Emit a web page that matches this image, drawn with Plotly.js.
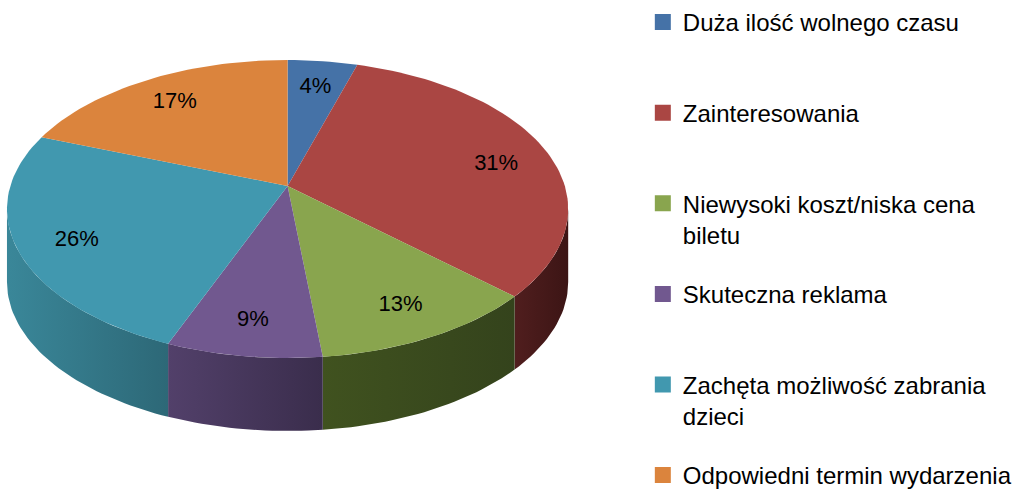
<!DOCTYPE html>
<html>
<head>
<meta charset="utf-8">
<script src="https://cdn.plot.ly/plotly-3.0.1.min.js"></script>
<style>html,body{margin:0;padding:0;background:#fff;}#chart{width:1017px;height:493px;}</style>
</head>
<body>
<div id="chart"></div>
<script>
// ---- data ----
const categories = [
  "Duża ilość wolnego czasu",
  "Zainteresowania",
  "Niewysoki koszt/niska cena biletu",
  "Skuteczna reklama",
  "Zachęta możliwość zabrania dzieci",
  "Odpowiedni termin wydarzenia"
];
const legendLabels = [
  "Duża ilość wolnego czasu<br>&nbsp;",
  "Zainteresowania<br>&nbsp;",
  "Niewysoki koszt/niska cena<br>biletu",
  "Skuteczna reklama<br>&nbsp;",
  "Zachęta możliwość zabrania<br>dzieci",
  "Odpowiedni termin wydarzenia"
];
const values = [4, 31, 13, 9, 26, 17];
const topColors = ["#4572a7", "#aa4643", "#89a54e", "#71588f", "#4198af", "#db843d"];
const sideColorsLight = ["#2c4a70", "#501e1e", "#40521f", "#52406a", "#3a8799", "#a0602c"];
const sideColorsDark = ["#22395a", "#3c1515", "#34431c", "#3a2d4c", "#2d6877", "#7c4a22"];

// ---- geometry (style/layout constants) ----
const CX = 289, CY = 209, RX = 282, RY = 149, DEPTH = 73;
const AX = 289, AY = 186;          // apex of slices (perspective)
const LABEL_R = 0.79;

function pt(t, dy) {
  return [CX + RX * Math.sin(t), CY - RY * Math.cos(t) + (dy || 0)];
}

const total = values.reduce((a, b) => a + b, 0);
const traces = [];
const tops = [];
const labelX = [], labelY = [];
let acc = 0;
values.forEach((v, i) => {
  const t1 = acc / total * 2 * Math.PI;
  acc += v;
  const t2 = acc / total * 2 * Math.PI;
  // top face
  const n = Math.max(4, Math.ceil((t2 - t1) / (2 * Math.PI) * 240));
  const xs = [AX], ys = [AY];
  for (let k = 0; k <= n; k++) {
    const p = pt(t1 + (t2 - t1) * k / n);
    xs.push(p[0]); ys.push(p[1]);
  }
  xs.push(AX); ys.push(AY);
  tops.push({
    type: "scatter", mode: "lines", x: xs, y: ys, fill: "toself",
    fillcolor: topColors[i], line: {width: 0, color: topColors[i]},
    hoverinfo: "skip", showlegend: false
  });
  // side face (front visible half: t in [pi/2, 3pi/2])
  const s1 = Math.max(t1, Math.PI / 2), s2 = Math.min(t2, 3 * Math.PI / 2);
  if (s2 > s1) {
    const m = Math.max(4, Math.ceil((s2 - s1) / (2 * Math.PI) * 240));
    const sx = [], sy = [];
    for (let k = 0; k <= m; k++) {
      const p = pt(s1 + (s2 - s1) * k / m);
      sx.push(p[0]); sy.push(p[1]);
    }
    for (let k = m; k >= 0; k--) {
      const p = pt(s1 + (s2 - s1) * k / m, DEPTH);
      sx.push(p[0]); sy.push(p[1]);
    }
    sx.push(sx[0]); sy.push(sy[0]);
    traces.push({
      type: "scatter", mode: "lines", x: sx, y: sy, fill: "toself",
      fillgradient: {type: "horizontal", colorscale: [[0, sideColorsLight[i]], [1, sideColorsDark[i]]]},
      fillcolor: sideColorsDark[i],
      line: {width: 0, color: sideColorsDark[i]},
      hoverinfo: "skip", showlegend: false
    });
  }
  const tm = (t1 + t2) / 2;
  const pm = pt(tm);
  labelX.push(AX + (pm[0] - AX) * LABEL_R);
  labelY.push(AY + (pm[1] - AY) * LABEL_R);
});

const labelTrace = {
  type: "scatter", mode: "text", x: labelX, y: labelY,
  text: values.map(v => v + "%"),
  textfont: {family: "Liberation Sans, Arial, sans-serif", size: 22, color: "#000"},
  hoverinfo: "skip", showlegend: false
};

const legendTraces = categories.map((c, i) => ({
  type: "scatter", mode: "markers", x: [null], y: [null],
  name: legendLabels[i], legendgroup: "g" + i,
  marker: {symbol: "square", size: 16, color: topColors[i]},
  showlegend: true, hoverinfo: "skip"
}));

const data = traces.concat(tops, [labelTrace], legendTraces);

const layout = {
  width: 1017, height: 493,
  margin: {l: 0, r: 0, t: 0, b: 0},
  paper_bgcolor: "#fff", plot_bgcolor: "#fff",
  xaxis: {range: [0, 1017], visible: false, fixedrange: true},
  yaxis: {range: [493, 0], visible: false, fixedrange: true},
  showlegend: true,
  legend: {
    x: 646 / 1017, xanchor: "left", y: 1 - 11 / 493, yanchor: "top",
    font: {family: "Liberation Sans, Arial, sans-serif", size: 24, color: "#000"},
    bgcolor: "rgba(0,0,0,0)", borderwidth: 0,
    tracegroupgap: 25.2, valign: "top", itemwidth: 30, maxheight: 800,
    itemclick: false, itemdoubleclick: false
  },
  hovermode: false
};

Plotly.newPlot("chart", data, layout, {displayModeBar: false, staticPlot: true});
</script>
</body>
</html>
